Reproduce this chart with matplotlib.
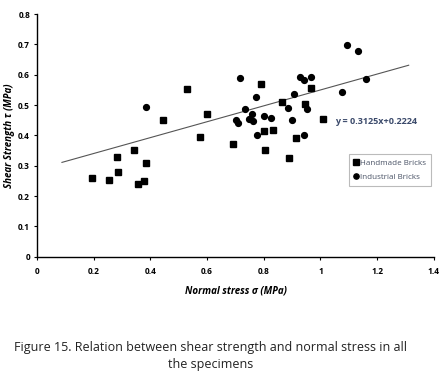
import numpy as np
import matplotlib
matplotlib.use('Agg')
import matplotlib.pyplot as plt

# Handmade bricks (squares)
hand_x = [0.193, 0.253, 0.286, 0.281, 0.342, 0.357, 0.378, 0.383, 0.446, 0.530,
          0.574, 0.600, 0.693, 0.789, 0.799, 0.804, 0.831, 0.865, 0.890, 0.912,
          0.947, 0.967, 1.008]
hand_y = [0.258, 0.253, 0.281, 0.330, 0.352, 0.241, 0.250, 0.310, 0.450, 0.554,
          0.396, 0.469, 0.372, 0.570, 0.414, 0.351, 0.418, 0.511, 0.324, 0.392,
          0.503, 0.558, 0.453]

# Industrial bricks (circles)
ind_x = [0.386, 0.703, 0.708, 0.716, 0.735, 0.748, 0.759, 0.761, 0.774, 0.776,
         0.799, 0.824, 0.887, 0.899, 0.908, 0.927, 0.941, 0.941, 0.954, 0.968,
         1.076, 1.095, 1.134, 1.162]
ind_y = [0.494, 0.451, 0.440, 0.588, 0.486, 0.455, 0.469, 0.448, 0.526, 0.401,
         0.465, 0.457, 0.490, 0.450, 0.535, 0.593, 0.582, 0.401, 0.486, 0.593,
         0.543, 0.698, 0.678, 0.586]

# trend line as drawn in the picture
trend_slope = 0.262
trend_icpt = 0.288
trend_range = [0.088, 1.311]
eq_text = 'y = 0.3125x+0.2224'

x_ticks = [0, 0.2, 0.4, 0.6, 0.8, 1.0, 1.2, 1.4]
x_labels = ['0', '0.2', '0.4', '0.6', '0.8', '1', '1.2', '1.4']
y_ticks = [0, 0.1, 0.2, 0.3, 0.4, 0.5, 0.6, 0.7, 0.8]

plt.rcParams['font.family'] = ['Open Sans', 'DejaVu Sans']

fig = plt.figure(figsize=(4.41, 3.82), dpi=100)
ax = fig.add_axes([0.0839, 0.328, 0.9, 0.635])

tx = np.array(trend_range)
ax.plot(tx, trend_slope * tx + trend_icpt, color='#555555', lw=0.8, zorder=1)

ax.plot(hand_x, hand_y, 's', color='black', ms=5.0, ls='none', label='Handmade Bricks')
ax.plot(ind_x, ind_y, 'o', color='black', ms=4.2, ls='none', label='Industrial Bricks')

ax.text(1.053, 0.445, eq_text, color='#3b4a6b', fontsize=6.5, fontweight='bold',
        va='center', ha='left')

ax.set_xlim(0, 1.4)
ax.set_ylim(0, 0.8)
ax.set_xticks(x_ticks)
ax.set_xticklabels(x_labels)
ax.set_yticks(y_ticks)
ax.set_yticklabels(['0'] + [f'{v:.1f}' for v in y_ticks[1:]])
for lab in ax.get_xticklabels() + ax.get_yticklabels():
    lab.set_fontweight('bold')
    lab.set_fontsize(6)
ax.tick_params(direction='out', length=2.5, width=0.8, pad=2.5)
ax.tick_params(axis='x', pad=5)
ax.spines['top'].set_visible(False)
ax.spines['right'].set_visible(False)
for s in ('left', 'bottom'):
    ax.spines[s].set_linewidth(1.0)

ax.set_xlabel('Normal stress σ (MPa)', fontsize=7, fontweight='bold', style='italic',
              labelpad=7)
ax.set_ylabel('Shear Strength τ (MPa)', fontsize=7, fontweight='bold', style='italic',
              labelpad=2)

leg = ax.legend(loc='upper left', bbox_to_anchor=(0.786, 0.423), fontsize=5.8,
                frameon=True, fancybox=False, handlelength=0.5, handletextpad=0.3,
                borderpad=0.6, labelspacing=0.85, borderaxespad=0,
                labelcolor='#4a5366', markerscale=0.9)
leg.get_frame().set_edgecolor('#aaaaaa')
leg.get_frame().set_linewidth(0.8)

fig.text(0.478, 0.068, 'Figure 15. Relation between shear strength and normal stress in all\nthe specimens',
         ha='center', va='center', fontsize=9.0, linespacing=1.45, color='#222222')

fig.savefig('out.png', dpi=100)
